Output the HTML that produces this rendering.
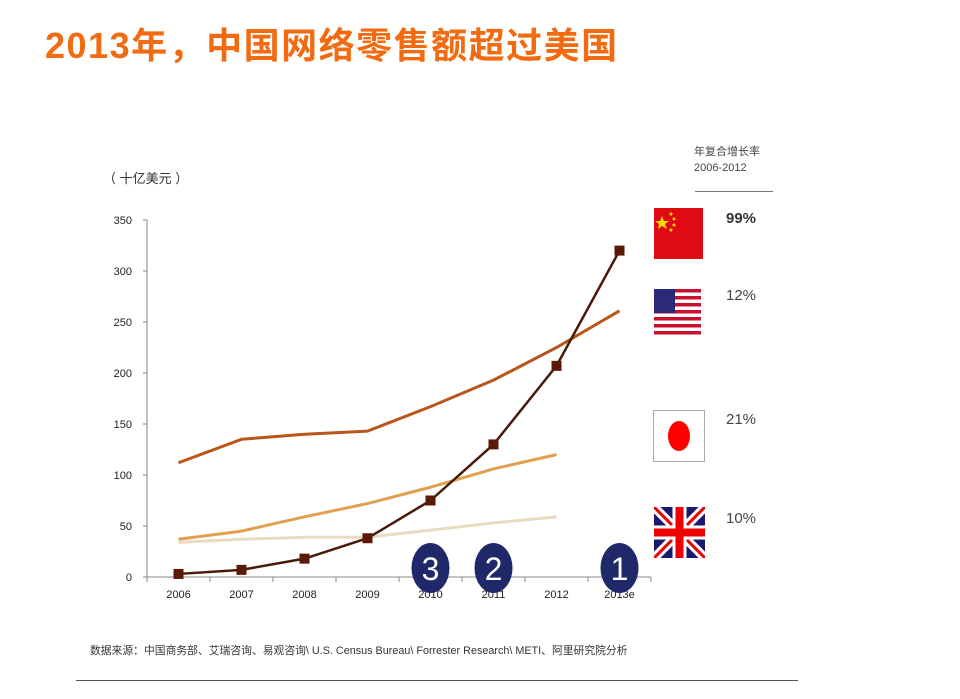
<!DOCTYPE html>
<html><head><meta charset="utf-8">
<style>
body{margin:0;width:960px;height:699px;background:#fff;position:relative;overflow:hidden;font-family:"Liberation Sans","Noto Sans CJK SC",sans-serif;}
.abs{position:absolute;}
</style></head><body>
<div class="abs" style="left:45px;top:17px;font-size:36px;letter-spacing:1.5px;font-weight:bold;color:#f26b10;font-family:'Liberation Sans','Noto Sans CJK SC',sans-serif;">2013年，中国网络零售额超过美国</div>
<div class="abs" style="left:103px;top:168px;font-size:13px;color:#333;">（ 十亿美元 ）</div>
<div class="abs" style="left:694px;top:144px;font-size:11px;color:#444;line-height:16px;">年复合增长率<br>2006-2012</div>
<div class="abs" style="left:695px;top:191px;width:78px;height:1px;background:#777;"></div>
<svg class="abs" style="left:654px;top:208px" width="49" height="51"><rect width="49" height="51" fill="#e00a12"/><polygon points="8,8 10,13 15,13 11,16 13,21 8,18 4,21 5,16 1,13 6,13" fill="#ffd800"/><circle cx="17" cy="6" r="1.5" fill="#ffd800"/><circle cx="20" cy="11" r="1.5" fill="#ffd800"/><circle cx="20" cy="17" r="1.5" fill="#ffd800"/><circle cx="17" cy="22" r="1.5" fill="#ffd800"/></svg>
<svg class="abs" style="left:654px;top:289px" width="47" height="46"><rect width="47" height="46" fill="#fff"/><g fill="#c8102e"><rect y="0" width="47" height="3.5"/><rect y="7" width="47" height="3.5"/><rect y="14" width="47" height="3.5"/><rect y="21" width="47" height="3.5"/><rect y="28" width="47" height="3.5"/><rect y="35" width="47" height="3.5"/><rect y="42" width="47" height="3.5"/></g><rect width="21" height="24" fill="#2a2a78"/></svg>
<svg class="abs" style="left:653px;top:410px" width="52" height="52"><rect x="0.5" y="0.5" width="51" height="51" fill="#fff" stroke="#aaa"/><ellipse cx="26" cy="26" rx="11" ry="15" fill="#f00"/></svg>
<svg class="abs" style="left:654px;top:507px" width="51" height="51"><rect width="51" height="51" fill="#1a1a6e"/><path d="M0,0L51,51M51,0L0,51" stroke="#fff" stroke-width="9"/><path d="M0,0L51,51M51,0L0,51" stroke="#e00" stroke-width="3"/><path d="M25.5,0V51M0,25.5H51" stroke="#fff" stroke-width="14"/><path d="M25.5,0V51M0,25.5H51" stroke="#e00" stroke-width="8"/></svg>
<div class="abs" style="left:726px;top:210px;font-size:15px;font-weight:bold;color:#333;">99%</div>
<div class="abs" style="left:726px;top:287px;font-size:15px;color:#444;">12%</div>
<div class="abs" style="left:726px;top:411px;font-size:15px;color:#444;">21%</div>
<div class="abs" style="left:726px;top:510px;font-size:15px;color:#444;">10%</div>
<div class="abs" style="left:90px;top:642px;font-size:10.8px;color:#333;">数据来源：中国商务部、艾瑞咨询、易观咨询\ U.S. Census Bureau\ Forrester Research\ METI、阿里研究院分析</div>
<div class="abs" style="left:76px;top:680px;width:722px;height:1px;background:#555;"></div>
<svg id="chart" class="abs" style="left:0;top:0" width="960" height="699"></svg>
<script>
const categories=["2006","2007","2008","2009","2010","2011","2012","2013e"];
const yTicks=[0,50,100,150,200,250,300,350];
const china=[3,7,18,38,75,130,207,320];
const usa=[112,135,140,143,167,193,225,261];
const japan=[37,45,59,72,88,106,120];
const uk=[34,37,39,39,46,53,59];
const rankBadges=[{cat:"2010",label:"3"},{cat:"2011",label:"2"},{cat:"2013e",label:"1"}];
const svg=document.getElementById('chart');
const NS='http://www.w3.org/2000/svg';
const x0=147,bw=63,y0=577,ppu=357/350;
const X=i=>x0+bw*(i+0.5);
const Y=v=>y0-v*ppu;
function mk(t,a){const e=document.createElementNS(NS,t);for(const k in a)e.setAttribute(k,a[k]);svg.appendChild(e);return e;}
let ax=mk('line',{x1:x0,y1:Y(0),x2:x0,y2:Y(350),stroke:'#888'});


let bx=mk('line',{x1:x0,y1:y0,x2:x0+bw*categories.length,y2:y0,stroke:'#888'});


yTicks.forEach(v=>{
  mk('line',{x1:x0-4,y1:Y(v),x2:x0,y2:Y(v),stroke:'#888'});
  const t=mk('text',{x:x0-15,y:Y(v)+4,'text-anchor':'end','font-size':11,fill:'#222','font-family':'Liberation Sans'});
  t.textContent=v;
  
  
});
for(let i=0;i<=categories.length;i++)mk('line',{x1:x0+bw*i,y1:y0,x2:x0+bw*i,y2:y0+5,stroke:'#888'});
categories.forEach((c,i)=>{
  const t=mk('text',{x:X(i),y:y0+21,'text-anchor':'middle','font-size':11,fill:'#222','font-family':'Liberation Sans'});
  t.textContent=c;
  
  
});
function line(d,color,w,name){
  const p=mk('polyline',{points:d.map((v,i)=>X(i)+','+Y(v)).join(' '),fill:'none',stroke:color,'stroke-width':w,'stroke-linejoin':'round'});
  
  
}
line(uk,'#e8dcc0',3,'uk-line');
line(japan,'#e0a050',3,'japan-line');
line(usa,'#b8561c',3,'usa-line');
line(china,'#4a1a08',2.5,'china-line');
china.forEach((v,i)=>{
  const r=mk('rect',{x:X(i)-5,y:Y(v)-5,width:10,height:10,fill:'#5a1a06'});
  
  
});
rankBadges.forEach(b=>{
  const i=categories.indexOf(b.cat);
  const e=mk('ellipse',{cx:X(i),cy:568,rx:19,ry:25,fill:'#1f2868'});
  
  
  const t=mk('text',{x:X(i),y:580,'text-anchor':'middle','font-size':32,fill:'#fff','font-family':'Liberation Sans'});
  t.textContent=b.label;
  
  
});
</script>
</body></html>
